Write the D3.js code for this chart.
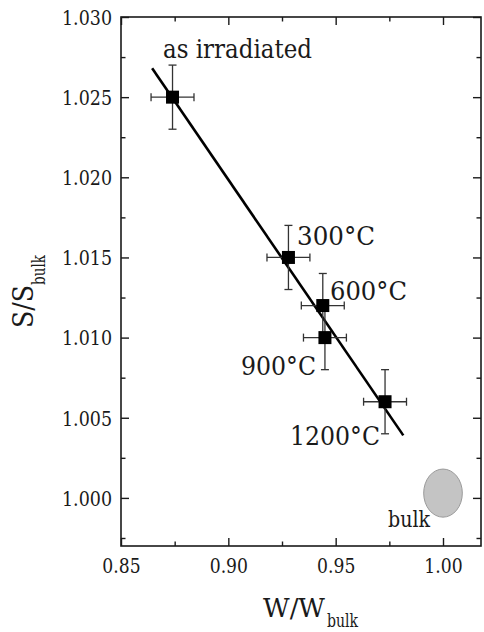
<!DOCTYPE html>
<html><head><meta charset="utf-8">
<script src="https://cdn.jsdelivr.net/npm/d3@7/dist/d3.min.js"></script>
<style>body{margin:0;background:#fff}</style>
</head><body><svg id="c" width="484" height="632"></svg>
<script>
// data
const labels = ["as irradiated", "300°C", "600°C", "900°C", "1200°C"];
const wValues = [0.874, 0.928, 0.944, 0.945, 0.973];
const sValues = [1.025, 1.015, 1.012, 1.010, 1.006];
const wErr = [0.010, 0.010, 0.010, 0.010, 0.010];
const sErr = [0.002, 0.002, 0.002, 0.002, 0.002];
const fitW = [0.8645, 0.9815];
const fitS = [1.0268, 1.0039];
const bulkW = 1.000, bulkS = 1.0003, bulkDW = 0.009, bulkDS = 0.0015;
const xTicks = [0.85, 0.90, 0.95, 1.00];
const yTicks = [1.000, 1.005, 1.010, 1.015, 1.020, 1.025, 1.030];
const xMinorTicks = [0.875, 0.925, 0.975];
const yMinorTicks = [0.9975, 1.0025, 1.0075, 1.0125, 1.0175, 1.0225, 1.0275];

// DejaVu Serif, scaled so glyph heights match the Times-like reference
const FONT = "'DejaVu Serif', serif";
const K = 0.927;
const fs = v => (v*K).toFixed(2);

const svg = d3.select("#c").attr("font-family", FONT);
const L = 121, R = 481, T = 17, B = 546;
const x = d3.scaleLinear().domain([0.85, 1.0177]).range([L, R]);
const y = d3.scaleLinear().domain([0.997, 1.030]).range([B, T]);
const ink = "#1a1a1a";

function styleAxis(g){
  g.select(".domain").remove();
  g.selectAll(".tick line").attr("stroke",ink).attr("stroke-width",1.4);
}
svg.append("g").attr("transform",`translate(0,${B})`)
  .call(d3.axisBottom(x).tickValues(xTicks).tickSize(-8).tickFormat(d3.format(".2f")))
  .call(styleAxis)
  .call(g=>g.selectAll("text").attr("y",573-B).attr("dy",null)
     .attr("font-size",fs(22)).attr("fill",ink).attr("font-family",FONT)
     .attr("textLength",38.3).attr("lengthAdjust","spacingAndGlyphs"));
svg.append("g").attr("transform",`translate(0,${B})`)
  .call(d3.axisBottom(x).tickValues(xMinorTicks).tickSize(-4.5).tickFormat("")).call(styleAxis);
svg.append("g").attr("transform",`translate(0,${T})`)
  .call(d3.axisTop(x).tickValues(xTicks).tickSize(-8).tickFormat("")).call(styleAxis);
svg.append("g").attr("transform",`translate(0,${T})`)
  .call(d3.axisTop(x).tickValues(xMinorTicks).tickSize(-4.5).tickFormat("")).call(styleAxis);

svg.append("g").attr("transform",`translate(${L},0)`)
  .call(d3.axisLeft(y).tickValues(yTicks).tickSize(-8).tickFormat(d3.format(".3f")))
  .call(styleAxis)
  .call(g=>g.selectAll("text").attr("x",112-L).attr("dy","0.36em")
     .attr("font-size",fs(22)).attr("fill",ink).attr("font-family",FONT)
     .attr("textLength",50).attr("lengthAdjust","spacingAndGlyphs"));
svg.append("g").attr("transform",`translate(${L},0)`)
  .call(d3.axisLeft(y).tickValues(yMinorTicks).tickSize(-4.5).tickFormat("")).call(styleAxis);
svg.append("g").attr("transform",`translate(${R},0)`)
  .call(d3.axisRight(y).tickValues(yTicks).tickSize(-8).tickFormat("")).call(styleAxis);
svg.append("g").attr("transform",`translate(${R},0)`)
  .call(d3.axisRight(y).tickValues(yMinorTicks).tickSize(-4.5).tickFormat("")).call(styleAxis);

svg.append("rect").attr("x",L).attr("y",T).attr("width",R-L).attr("height",B-T)
  .attr("fill","none").attr("stroke",ink).attr("stroke-width",1.6);

function txt(str, px, py, size, w, anchor, rot){
  const t = svg.append("text").attr("font-size",fs(size)).attr("fill",ink)
    .attr("textLength",w).attr("lengthAdjust","spacingAndGlyphs").attr("text-anchor",anchor||"start").text(str);
  if(rot) t.attr("transform",`translate(${px},${py}) rotate(-90)`);
  else t.attr("x",px).attr("y",py);
  return t;
}
// axis titles
txt("W/W", 263, 617, 29, 62);
txt("bulk", 327, 627, 19, 31);
txt("S/S", 33, 328, 31, 43, "start", true);
txt("bulk", 45, 285, 19, 30, "start", true);

// bulk ellipse
svg.append("ellipse").attr("cx",x(bulkW)).attr("cy",y(bulkS))
  .attr("rx",x(bulkW+bulkDW)-x(bulkW)).attr("ry",y(bulkS)-y(bulkS+bulkDS))
  .attr("fill","#c4c4c4").attr("stroke","#9a9a9a").attr("stroke-width",1);
txt("bulk", 388, 527, 23.5, 42);

// fit line
svg.append("line").attr("x1",x(fitW[0])).attr("y1",y(fitS[0])).attr("x2",x(fitW[1])).attr("y2",y(fitS[1]))
  .attr("stroke","#000").attr("stroke-width",2.6);

// error bars
const eb = svg.append("g").attr("stroke","#333").attr("stroke-width",1.3);
const cap = 4;
wValues.forEach((w,i)=>{
  const s = sValues[i];
  eb.append("line").attr("x1",x(w)).attr("x2",x(w)).attr("y1",y(s-sErr[i])).attr("y2",y(s+sErr[i]));
  eb.append("line").attr("x1",x(w)-cap).attr("x2",x(w)+cap).attr("y1",y(s-sErr[i])).attr("y2",y(s-sErr[i]));
  eb.append("line").attr("x1",x(w)-cap).attr("x2",x(w)+cap).attr("y1",y(s+sErr[i])).attr("y2",y(s+sErr[i]));
  eb.append("line").attr("x1",x(w-wErr[i])).attr("x2",x(w+wErr[i])).attr("y1",y(s)).attr("y2",y(s));
  eb.append("line").attr("x1",x(w-wErr[i])).attr("x2",x(w-wErr[i])).attr("y1",y(s)-cap).attr("y2",y(s)+cap);
  eb.append("line").attr("x1",x(w+wErr[i])).attr("x2",x(w+wErr[i])).attr("y1",y(s)-cap).attr("y2",y(s)+cap);
});
// markers
const sq = 13;
svg.append("g").selectAll("rect").data(wValues).join("rect")
  .attr("x",d=>x(d)-sq/2).attr("y",(d,i)=>y(sValues[i])-sq/2).attr("width",sq).attr("height",sq).attr("fill","#000");

// point labels
const lblPos = [
  {x:163,y:58,a:"start",w:149},
  {x:297,y:245,a:"start",w:78},
  {x:330,y:300,a:"start",w:77},
  {x:316,y:375,a:"end",w:75},
  {x:380,y:445,a:"end",w:90}
];
labels.forEach((d,i)=>txt(d, lblPos[i].x, lblPos[i].y, 29, lblPos[i].w, lblPos[i].a));
</script></body></html>
